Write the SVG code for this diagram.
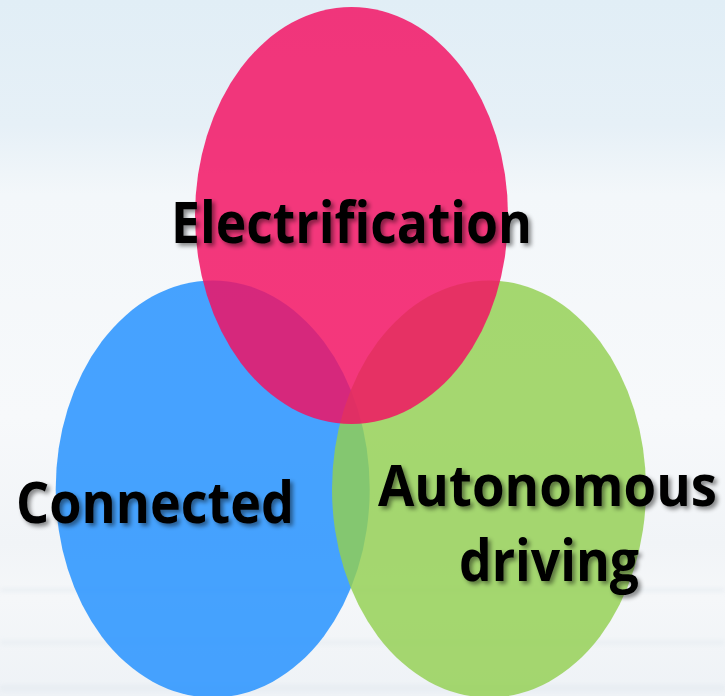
<svg xmlns="http://www.w3.org/2000/svg" width="725" height="696" viewBox="0 0 725 696">
  <defs>
    <linearGradient id="sky" x1="0" y1="0" x2="0" y2="1">
      <stop offset="0" stop-color="#E1EEF6"/>
      <stop offset="0.18" stop-color="#E6F0F7"/>
      <stop offset="0.28" stop-color="#F3F7FA"/>
      <stop offset="0.6" stop-color="#F7F9FB"/>
      <stop offset="0.78" stop-color="#F1F4F7"/>
      <stop offset="0.86" stop-color="#F5F7F9"/>
      <stop offset="1" stop-color="#EEF2F6"/>
    </linearGradient>
    <linearGradient id="haze" x1="0" y1="0" x2="1" y2="1">
      <stop offset="0" stop-color="#DCEBF5" stop-opacity="0"/>
      <stop offset="0.5" stop-color="#F8F9FB" stop-opacity="0.5"/>
      <stop offset="1" stop-color="#F8F9FB" stop-opacity="0"/>
    </linearGradient>
    <filter id="shadow" x="-10%" y="-30%" width="120%" height="160%">
      <feDropShadow dx="3" dy="3" stdDeviation="2" flood-color="#000" flood-opacity="0.45"/>
    </filter>
    <filter id="soft" x="-5%" y="-50%" width="110%" height="200%">
      <feGaussianBlur stdDeviation="2"/>
    </filter>
  </defs>
  <style>
    .set { stroke: none; }
    .label { font-family: "Open Sans", "Liberation Sans", sans-serif; font-weight: bold; font-size: 58px; fill: #000; filter: url(#shadow); }
  </style>

  <!-- backdrop -->
  <rect x="0" y="0" width="725" height="696" fill="url(#sky)"/>
  <g filter="url(#soft)" opacity="0.6">
    <rect x="0" y="588" width="725" height="4" fill="#E4EAF0"/>
    <rect x="0" y="640" width="725" height="5" fill="#E6ECF1"/>
    <rect x="0" y="685" width="725" height="6" fill="#E3E9EF"/>
  </g>

  <!-- sets -->
  <g id="connected">
    <ellipse class="set" cx="212.7" cy="489" rx="157" ry="208.5" fill="rgb(34,144,255)" fill-opacity="0.83"/>
  </g>
  <g id="autonomous">
    <ellipse class="set" cx="489" cy="489" rx="157" ry="208.5" fill="#92D050" fill-opacity="0.82"/>
  </g>
  <g id="electrification">
    <ellipse class="set" cx="351.5" cy="215.5" rx="156.5" ry="208.5" fill="rgb(243,16,97)" fill-opacity="0.83"/>
  </g>

  <!-- labels -->
  <g id="labels">
    <text class="label" x="171" y="243" textLength="361" lengthAdjust="spacingAndGlyphs">Electrification</text>
    <text class="label" x="16" y="523" textLength="278" lengthAdjust="spacingAndGlyphs">Connected</text>
    <text class="label" x="378" y="506" textLength="339" lengthAdjust="spacingAndGlyphs">Autonomous</text>
    <text class="label" x="459" y="581" textLength="180" lengthAdjust="spacingAndGlyphs">driving</text>
  </g>
</svg>
